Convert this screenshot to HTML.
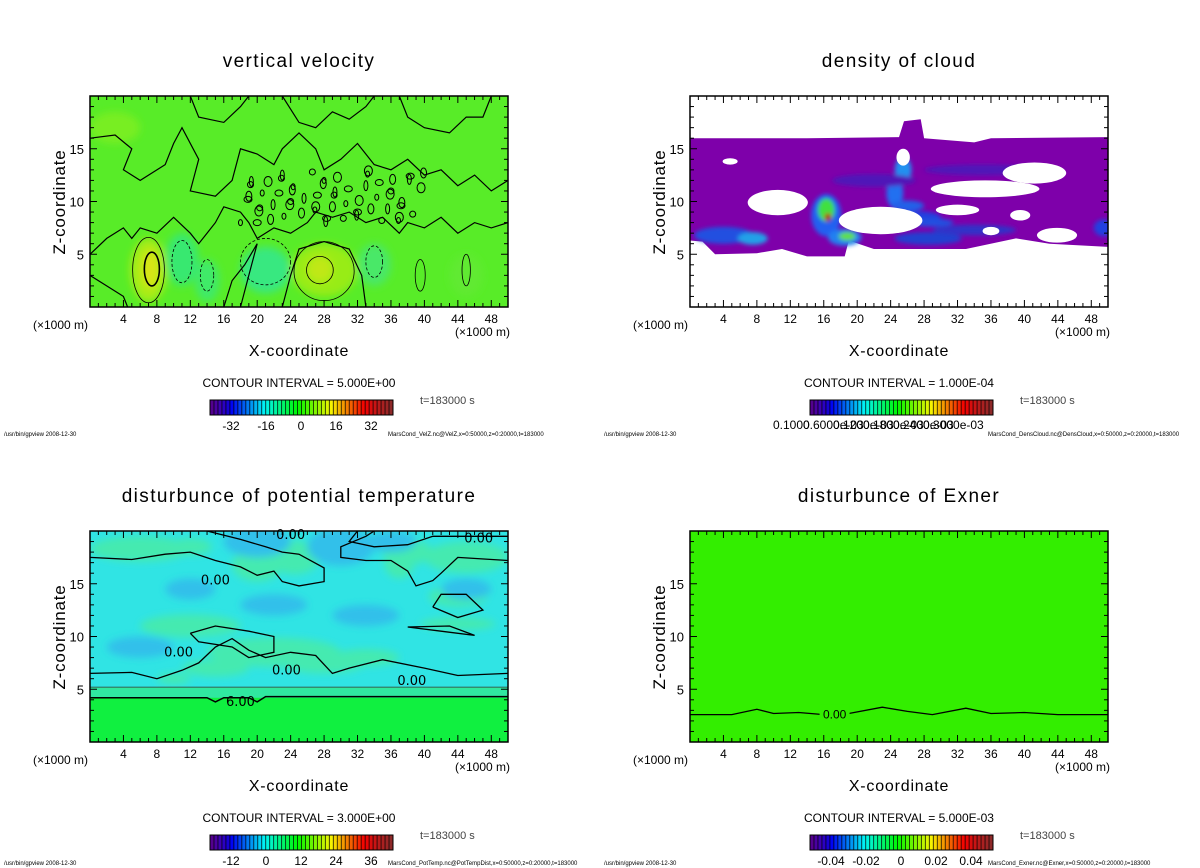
<!DOCTYPE html>
<html><head><meta charset="utf-8">
<style>
html,body{margin:0;padding:0;background:#fff;}
svg{display:block;font-family:"Liberation Sans",sans-serif;}
</style></head>
<body>
<svg id="root" width="1200" height="868" viewBox="0 0 1200 868" xmlns="http://www.w3.org/2000/svg">
<defs>
<filter id="blur4" x="-50%" y="-50%" width="200%" height="200%"><feGaussianBlur stdDeviation="4"/></filter>
<filter id="blur2" x="-50%" y="-50%" width="200%" height="200%"><feGaussianBlur stdDeviation="2"/></filter>
<clipPath id="c1"><rect x="90" y="96" width="418" height="211"/></clipPath>
<clipPath id="c2"><rect x="690" y="96" width="418" height="211"/></clipPath>
<clipPath id="c3"><rect x="90" y="531" width="418" height="211"/></clipPath>
<clipPath id="c4"><rect x="690" y="531" width="418" height="211"/></clipPath>
</defs>
</svg>
<script>
// ---- data ----
const panelTitles = ["vertical velocity","density of cloud","disturbunce of potential temperature","disturbunce of Exner"];
const intervals = ["CONTOUR INTERVAL = 5.000E+00","CONTOUR INTERVAL = 1.000E-04","CONTOUR INTERVAL = 3.000E+00","CONTOUR INTERVAL = 5.000E-03"];
const xTicks = [4,8,12,16,20,24,28,32,36,40,44,48];
const zTicks = [5,10,15];
const cbLabels = [["-32","-16","0","16","32"],[],["-12","0","12","24","36"],["-0.04","-0.02","0","0.02","0.04"]];
const footers = ["MarsCond_VelZ.nc@VelZ,x=0:50000,z=0:20000,t=183000","MarsCond_DensCloud.nc@DensCloud,x=0:50000,z=0:20000,t=183000","MarsCond_PotTemp.nc@PotTempDist,x=0:50000,z=0:20000,t=183000","MarsCond_Exner.nc@Exner,x=0:50000,z=0:20000,t=183000"];
const velBlobs = [[7,3.5,2.2,3,"#a8ec18"],[7.2,3.6,1,1.8,"#d8e418"],[28,3.5,4,2.5,"#98ec18"],[27.5,3.6,1.5,1.2,"#c0e818"],[11,4.5,2,2.5,"#38e870"],[21,3.5,3,2.2,"#38e880"],[14,2.5,1.5,2,"#40ea68"],[34,4,2,2,"#48e868"],[45,3,2,2,"#60ea30"],[3,17,3,1.5,"#78ee20"]];
const velContours = [[7,3.5,1.9,3.1,1],[7.4,3.6,0.9,1.6,2],[28,3.4,3.6,2.8,1],[27.5,3.5,1.6,1.3,1],[11,4.3,1.2,2,3],[21,4.3,3,2.2,3],[14,3,0.8,1.5,3],[34,4.3,1,1.5,3],[39.5,3,0.6,1.5,1],[45,3.5,0.5,1.5,1]];
const velLines = [
 [[0,5],[2,6.5],[4,7.5],[5,6.5],[6,7.5],[8,7],[10,8.5],[12,7],[13,6],[14,7],[15,8],[16,9.5],[18,9],[19,8],[20,6.5],[22,7.5],[24,7],[26,8],[27,9],[29,8.5],[31,9],[33,8],[35,8.5],[37,7],[38,8],[40,7.5],[42,8.5],[44,7],[46,8],[48,7.5],[50,8]],
 [[0,16],[3,16.3],[5,15],[4,13],[6,12],[9,13.5],[10,15.5],[11,17],[13,14],[12,11],[15,10.5],[17,12],[18,15],[20,14.5],[22,13.5],[23,15],[25,16.5],[27,15],[28,13],[30,14],[32,15.5],[34,13.5],[36,13],[38,14],[40,12.5],[42,13],[44,11.5],[46,12.5],[48,11],[50,12]],
 [[12,20],[13,18],[16,17.5],[18,19],[19,20]],
 [[23,20],[25,17.5],[27,17],[29,18.5],[31,17.8],[33,19],[34,20]],
 [[37,20],[38,18],[40,17],[43,16.5],[45,18],[47,18],[48,20]],
 [[0,3],[2,2],[4,1],[4.5,0]],[[16,0],[17,2.5],[18.5,4],[20,6],[19,3],[18,0]],[[23,0],[24,3],[25,5.5],[28,6.2],[31,5.5],[32.5,3],[33,0]]
];
const cloudTop = [[0,16],[14,16],[25,16.1],[25.6,17.6],[27.6,17.8],[28,16],[34,15.6],[36,16],[50,16.1]];
const cloudBottom = [[50,5.7],[43,6],[39,6.5],[33,5.5],[22,5.5],[19,6.3],[18.5,4.8],[14,4.8],[11,5.5],[8,5.1],[3,5],[1.5,6.2],[0,6.3]];
const cloudHoles = [[4.8,13.8,0.9,0.3],[10.5,9.9,3.6,1.2],[22.8,8.2,5,1.3],[41.2,12.7,3.8,1],[35.3,11.2,6.5,0.8],[32,9.2,2.6,0.5],[39.5,8.7,1.2,0.5],[43.9,6.8,2.4,0.7],[25.5,14.2,0.8,0.8],[36,7.2,1,0.4]];
const cloudBlobs = [[4,6.8,3.5,0.8,"#2050e0"],[7.5,6.5,1.8,0.6,"#20a0e8"],[16.3,8.7,1.8,2,"#2060f0"],[16.3,9.2,1,1.1,"#40e040"],[16.5,8.5,0.4,0.4,"#b01010"],[18.5,6.6,2,0.8,"#2080f0"],[18.8,6.7,1,0.4,"#60e040"],[25.5,13,1,1.2,"#2090f0"],[24.5,10.8,1,1.4,"#2070f0"],[27,8.5,3,0.6,"#2040e0"],[28.5,6.5,4,0.6,"#2040d0"],[34,7.3,5,0.5,"#3030c8"],[22,12,5,0.6,"#5018b8"],[35,13,7,0.5,"#5018b8"],[49.5,7.5,1.2,0.8,"#2040e0"],[26,9.6,2,0.5,"#2060e8"],[29,8,2.5,0.4,"#2050e0"]];
const ptWarm = [[6,18.3,6,1.2],[12,18.5,2.6,0.8],[20,16.8,3,1.6],[24.5,17.5,3,1.6],[45,17.5,5,1.5],[38,18,3,1.2],[37,17,1.8,1.5],[44,13.8,3.5,1],[44,11.2,4.5,0.6],[12,11,6,1.1],[22,8.5,8,1.4],[28,7.5,5,1],[33,8,4,0.8],[15,7,4,0.8],[10,6,2,0.5]];
const ptCool = [[20,19,4,1.5],[30,18.5,4,1.8],[36,19,3,1],[12,14.5,3,1],[22,13,4,1],[33,12,4,1],[45,14.5,3,1],[6,9,4,1]];
const ptLines = [
 [[0,17.5],[5,17.3],[9,17.8],[12,18],[15,17.2],[18,16.6],[20,15.8],[22,16.2],[23,15.2],[25,14.8],[28,15.2],[28,16.5],[25,17.8],[23,18],[21,18.5],[18,19.2],[14,20]],
 [[32,20],[31,19],[34,18.5],[38,18.7],[41,19.5],[50,19.5]],
 [[50,17.2],[44,17.5],[42,16],[41,15.3],[39,14.8],[38,16.2],[36,17.2],[33,17.2],[30,17.5],[30,18.5],[33,19.5],[34,20]],
 [[41,12.8],[44,11.8],[47,12.5],[45,14],[42,14],[41,12.8]],
 [[38,10.9],[42,10.5],[46,10.1],[43,11],[38,10.9]],
 [[0,6.5],[5,6.6],[8,6],[11,6.8],[13,7.5],[15,9],[17,9.8],[19,8.7],[21,8],[24,8.5],[27,8.2],[29,6.5],[31,7],[35,7.8],[40,7],[44,6.3],[50,6.5]],
 [[12,10.3],[15,11],[19,10.5],[22,10],[22,8.5],[19,8],[17,9],[13,9.5],[12,10.3]]
];
const exnerLine = [[0,2.6],[5,2.6],[8,3.1],[10,2.7],[13,2.8],[16,2.6],[19,2.7],[23,3.3],[26,2.9],[29,2.6],[33,3.2],[36,2.7],[40,2.8],[44,2.6],[50,2.6]];

// ---- geometry ----
const NS="http://www.w3.org/2000/svg";
const svg=document.getElementById('root');
const origins=[[90,96],[690,96],[90,531],[690,531]];
const PW=418, PH=211;
function mk(tag,attrs,parent){const e=document.createElementNS(NS,tag);for(const k in attrs)e.setAttribute(k,attrs[k]);(parent||svg).appendChild(e);return e;}
function ax(p,x){return origins[p][0]+x/50*PW;}
function az(p,z){return origins[p][1]+PH-z/20*PH;}
function pathD(p,pts,close){return pts.map((q,i)=>(i?'L':'M')+ax(p,q[0]).toFixed(1)+','+az(p,q[1]).toFixed(1)).join('')+(close?'Z':'');}
function txt(x,y,s,size,anchor,fill,name,extra){const t=mk('text',Object.assign({x:x,y:y,'font-size':size,'text-anchor':anchor||'start',fill:fill||'#000'},extra||{}));t.textContent=s;return t;}

for(let p=0;p<4;p++){
 const [ox,oy]=origins[p];
 const cx=ox+209;
 const g=mk('g',{'clip-path':'url(#c'+(p+1)+')'});
 
 
 if(p===0){
  mk('rect',{x:ox,y:oy,width:PW,height:PH,fill:'#58ec28'},g);
  const bg=mk('g',{filter:'url(#blur4)'},g);
  velBlobs.forEach(b=>{const e=mk('ellipse',{cx:ax(p,b[0]),cy:az(p,b[1]),rx:b[2]/50*PW,ry:b[3]/20*PH,fill:b[4]},bg);});
  velContours.forEach(c=>{const e=mk('ellipse',{cx:ax(p,c[0]),cy:az(p,c[1]),rx:c[2]/50*PW,ry:c[3]/20*PH,fill:'none',stroke:'#000','stroke-width':c[4]===2?1.6:0.8,'stroke-dasharray':c[4]===3?'3,2':'none'},g);});
  velLines.forEach(l=>{const e=mk('path',{d:pathD(p,l),fill:'none',stroke:'#000','stroke-width':1.2},g);});
  for(let i=0;i<60;i++){const x=18+((i*37)%22)+((i*7)%5)*0.3,z=8+((i*13)%50)/10;const e=mk('ellipse',{cx:ax(p,x),cy:az(p,z),rx:2+(i%3),ry:3+(i%2)*2,fill:'none',stroke:'#000','stroke-width':1},g);}
 } else if(p===1){
  mk('rect',{x:ox,y:oy,width:PW,height:PH,fill:'#fff'},g);
  const band=mk('path',{d:pathD(p,cloudTop.concat(cloudBottom),true),fill:'#7e00aa'},g);
  
  const bg=mk('g',{filter:'url(#blur2)'},g);
  cloudBlobs.forEach(b=>{const e=mk('ellipse',{cx:ax(p,b[0]),cy:az(p,b[1]),rx:b[2]/50*PW,ry:b[3]/20*PH,fill:b[4]},bg);});
  cloudHoles.forEach(h=>{const e=mk('ellipse',{cx:ax(p,h[0]),cy:az(p,h[1]),rx:h[2]/50*PW,ry:h[3]/20*PH,fill:'#fff'},g);});
 } else if(p===2){
  mk('rect',{x:ox,y:oy,width:PW,height:PH,fill:'#30e4e4'},g);
  const bg=mk('g',{filter:'url(#blur4)'},g);
  ptWarm.forEach(b=>{const e=mk('ellipse',{cx:ax(p,b[0]),cy:az(p,b[1]),rx:b[2]/50*PW,ry:b[3]/20*PH,fill:'#44eab0'},bg);});
  ptCool.forEach(b=>{const e=mk('ellipse',{cx:ax(p,b[0]),cy:az(p,b[1]),rx:b[2]/50*PW,ry:b[3]/20*PH,fill:'#30c0ea'},bg);});
  mk('rect',{x:ox,y:az(p,5.2),width:PW,height:az(p,4.2)-az(p,5.2),fill:'#30e8a0'},g);
  const low=mk('rect',{x:ox,y:az(p,4.2),width:PW,height:az(p,0)-az(p,4.2),fill:'#10f040'},g);
  
  ptLines.forEach(l=>{const e=mk('path',{d:pathD(p,l),fill:'none',stroke:'#000','stroke-width':1.3},g);});
  mk('path',{d:pathD(p,[[0,5.2],[50,5.2]]),fill:'none',stroke:'#333','stroke-width':0.8},g);
  const l2=mk('path',{d:pathD(p,[[0,4.2],[14,4.2],[15,3.8],[16,4.2],[19,4.2],[20,3.8],[21,4.3],[50,4.3]]),fill:'none',stroke:'#000','stroke-width':1.5},g);
  
  [[0.0,19.6,'0.00'],[15,15.3,'0.00'],[46.5,19.3,'0.00'],[10.6,8.5,'0.00'],[23.5,6.8,'0.00'],[38.5,5.8,'0.00'],[18,3.8,'6.00']].forEach((t,i)=>{
   const lx=i===0?ax(p,24):ax(p,t[0]); txt(lx,az(p,t[1])+4,t[2],13,'middle','#000','contour-label',{'font-family':'DejaVu Sans, sans-serif'});});
 } else {
  mk('rect',{x:ox,y:oy,width:PW,height:PH,fill:'#33ee00'},g);
  const e=mk('path',{d:pathD(p,exnerLine),fill:'none',stroke:'#000','stroke-width':1.3},g);
  
  mk('rect',{x:ax(p,15.5),y:az(p,2.9)-7,width:30,height:13,fill:'#33ee00'},g);
  txt(ax(p,17.3),az(p,2.7)+5,'0.00',12,'middle','#000','contour-label');
 }
 const fr=mk('rect',{x:ox,y:oy,width:PW,height:PH,fill:'none',stroke:'#000','stroke-width':1.5});
 
 for(let x=1;x<50;x++){const L=x%4===0?7:4;const X=ax(p,x);
  mk('line',{x1:X,y1:oy+PH,x2:X,y2:oy+PH-L,stroke:'#000'});mk('line',{x1:X,y1:oy,x2:X,y2:oy+L,stroke:'#000'});}
 for(let z=1;z<20;z++){const L=z%5===0?7:4;const Y=az(p,z);
  mk('line',{x1:ox,y1:Y,x2:ox+L,y2:Y,stroke:'#000'});mk('line',{x1:ox+PW,y1:Y,x2:ox+PW-L,y2:Y,stroke:'#000'});}
 xTicks.forEach(v=>txt(ax(p,v),oy+PH+16,String(v),12,'middle','#000','x-tick-label'));
 zTicks.forEach(v=>txt(ox-6,az(p,v)+5,String(v),13,'end','#000','z-tick-label'));
 txt(ox-57,oy+PH+22,'(×1000 m)',12,'start','#000','x-unit-left');
 txt(ox+365,oy+PH+29,'(×1000 m)',12,'start','#000','x-unit-right');
 txt(cx,oy-29,panelTitles[p],19,'middle','#000','panel-title',{'letter-spacing':'1.4'});
 txt(cx,oy+PH+49,'X-coordinate',16,'middle','#000','x-axis-title',{'letter-spacing':'0.8'});
 txt(0,0,'Z-coordinate',17,'middle','#000','z-axis-title',{transform:'translate('+(ox-25)+','+(oy+106)+') rotate(-90)','letter-spacing':'0.8'});
 txt(cx,oy+PH+80,intervals[p],12,'middle','#000','contour-interval');
 const bx=ox+120,by=oy+PH+93,bw=183,bh=15;
 const cb=mk('g',{});
 const n=46;
 for(let i=0;i<n;i++){const t=i/(n-1);let col;
  if(t<0.85){col='hsl('+(275-t/0.85*275)+',100%,'+(t<0.1?28+t*150:48)+'%)';}else{col='hsl(0,'+(100-(t-0.85)*300)+'%,'+(48-(t-0.85)*80)+'%)';}
  mk('rect',{x:bx+i*bw/n,y:by,width:bw/n+0.3,height:bh,fill:col},cb);
  mk('line',{x1:bx+i*bw/n,y1:by,x2:bx+i*bw/n,y2:by+bh,stroke:'#000','stroke-width':0.9,'stroke-opacity':0.8},cb);}
 mk('rect',{x:bx,y:by,width:bw,height:bh,fill:'none',stroke:'#000','stroke-width':1},cb);
 const lab=cbLabels[p];
 lab.forEach((s,i)=>txt(bx+21+i*(140/(lab.length-1)),by+30,s,12,'middle','#000','colorbar-label'));
 if(p===1){['0.1000','0.6000e-03','0.1200e-03','0.1800e-03','0.2400e-03','0.3000e-03'].forEach((s,i)=>txt(bx-37+i*30,by+29,s,12,'start','#000','colorbar-label'));}
 txt(ox+330,oy+PH+97,'t=183000 s',11,'start','#444','time-label');
 const fy = p<2 ? oy+PH+129 : 865;
 txt(ox-86,fy,'/usr/bin/gpview  2008-12-30',6,'start','#000','footer-program');
 txt(ox+298,fy,footers[p],6,'start','#000','footer-file');
}
</script>
</body></html>
